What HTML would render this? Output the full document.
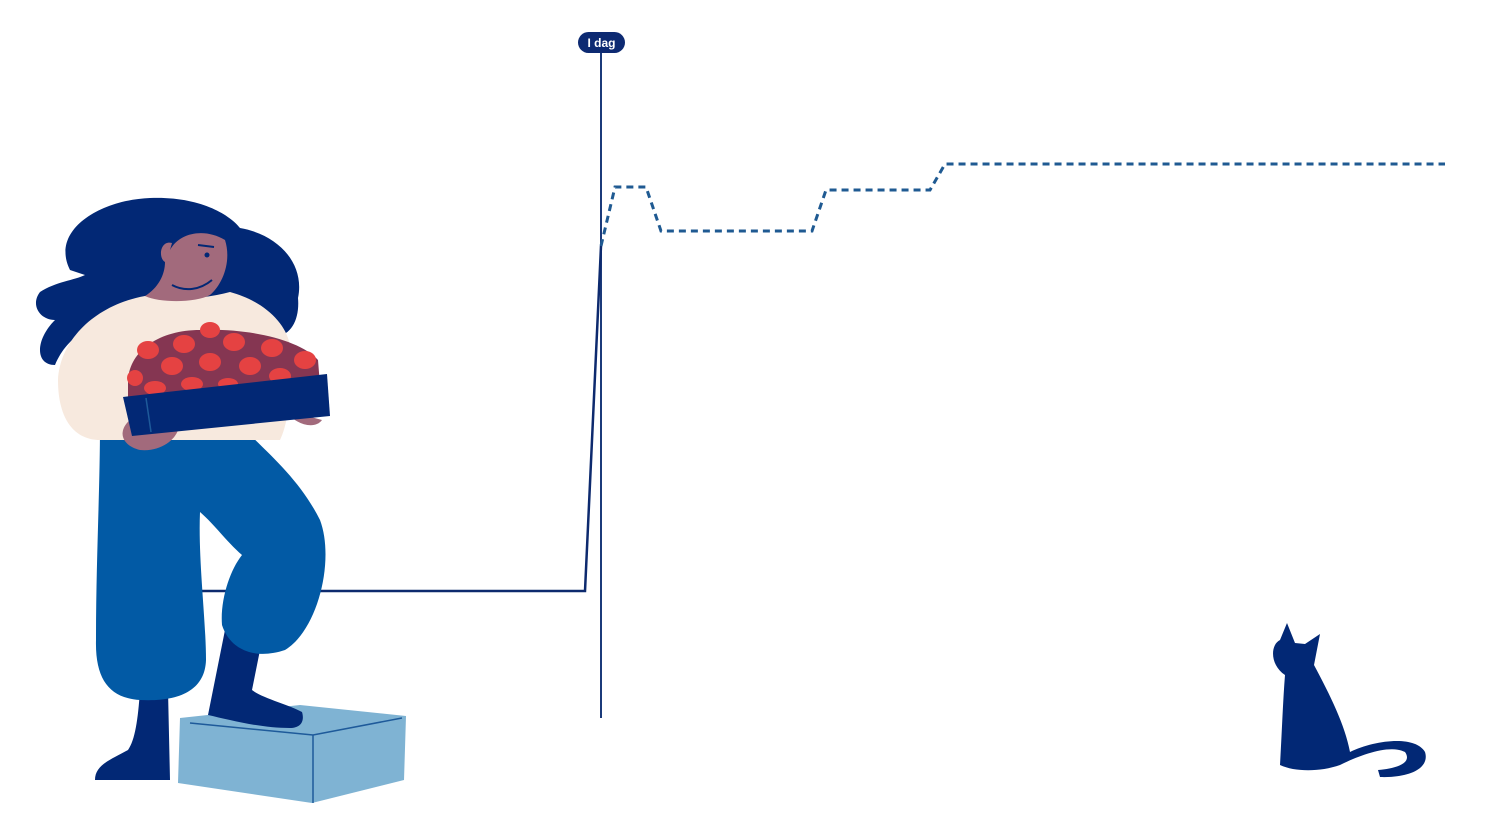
<!DOCTYPE html>
<html><head><meta charset="utf-8"><style>
html,body{margin:0;padding:0;background:#fff;}
svg{display:block;}
</style></head><body>
<svg width="1492" height="836" viewBox="0 0 1492 836" xmlns="http://www.w3.org/2000/svg">
<!-- chart -->
<line x1="601" y1="50" x2="601" y2="718" stroke="#1b3a7a" stroke-width="2"/>
<polyline points="200,591 585,591 601,246" fill="none" stroke="#0d2a6e" stroke-width="2.5"/>
<polyline points="601,246 615,187 646,187 661,231 812,231 826,190 930,190 945,164 1445,164" fill="none" stroke="#1f5a92" stroke-width="3" stroke-dasharray="7,5"/>
<rect x="578" y="32" width="47" height="21" rx="10.5" fill="#0d2a72"/>
<text x="601.5" y="47" text-anchor="middle" font-family="Liberation Sans, sans-serif" font-size="12" font-weight="bold" fill="#fff">I dag</text>

<!-- woman: hair -->
<path d="M70,270 C50,230 100,200 150,198 C200,196 230,215 240,228 C280,235 305,265 298,298 C300,320 290,340 270,335 L140,320 C100,320 70,330 55,365 C35,365 35,340 55,320 C40,320 30,305 40,292 C55,282 75,280 85,275 Z" fill="#022875"/>
<!-- box (light blue) -->
<polygon points="180,718 300,705 406,716 404,780 312,803 178,783" fill="#7fb3d3"/>
<polyline points="190,723 313,735 402,718" fill="none" stroke="#1e5a9a" stroke-width="1.5"/>
<line x1="313" y1="735" x2="313" y2="803" stroke="#1e5a9a" stroke-width="1.5"/>
<!-- boots -->
<path d="M140,690 L168,690 L170,780 L95,780 C95,765 110,760 128,750 C135,740 138,720 140,690 Z" fill="#022875"/>
<path d="M225,630 L262,640 L252,690 C262,698 290,705 302,712 C305,722 300,728 290,728 C260,728 230,720 208,715 Z" fill="#022875"/>
<!-- pants -->
<path d="M100,425 L240,425 C270,455 300,480 320,520 C335,560 318,630 285,650 C255,660 230,650 222,625 C220,600 230,570 242,555 C225,540 215,525 200,512 C198,560 206,620 206,660 C205,690 180,702 140,700 C110,698 95,680 96,640 C96,560 100,490 100,425 Z" fill="#025aa5"/>
<!-- shirt -->
<path d="M145,296 C170,300 200,300 230,292 C260,300 285,320 290,345 C292,380 290,420 280,440 L100,440 C75,440 58,420 58,380 C60,340 95,305 145,296 Z" fill="#f7e9de"/>
<!-- face -->
<path d="M170,250 C180,232 205,228 225,240 C232,262 222,285 210,295 C195,303 160,303 145,296 C158,288 165,275 165,262 C158,258 160,240 172,243 Z" fill="#a26a7c"/>
<path d="M172,285 C185,292 200,290 212,280" fill="none" stroke="#022875" stroke-width="2"/>
<circle cx="207" cy="255" r="2.5" fill="#022875"/>
<path d="M198,245 L214,247" stroke="#022875" stroke-width="2"/>
<!-- fruits -->
<path d="M128,380 C130,350 160,330 200,330 C250,328 300,340 318,360 L320,385 L128,400 Z" fill="#853652"/>
<g fill="#e54242">
<ellipse cx="148" cy="350" rx="11" ry="9"/><ellipse cx="184" cy="344" rx="11" ry="9"/><ellipse cx="210" cy="330" rx="10" ry="8"/>
<ellipse cx="234" cy="342" rx="11" ry="9"/><ellipse cx="272" cy="348" rx="11" ry="9"/><ellipse cx="305" cy="360" rx="11" ry="9"/>
<ellipse cx="172" cy="366" rx="11" ry="9"/><ellipse cx="210" cy="362" rx="11" ry="9"/><ellipse cx="250" cy="366" rx="11" ry="9"/>
<ellipse cx="280" cy="376" rx="11" ry="8"/><ellipse cx="135" cy="378" rx="8" ry="8"/><ellipse cx="155" cy="388" rx="11" ry="7"/><ellipse cx="192" cy="384" rx="11" ry="7"/><ellipse cx="228" cy="384" rx="10" ry="6"/>
</g>
<!-- hands -->
<path d="M130,420 C118,430 120,445 140,450 C160,452 175,440 178,430 Z" fill="#a26a7c"/>
<path d="M285,410 C295,425 315,430 322,420 Z" fill="#a26a7c"/>
<!-- tray -->
<polygon points="123,397 327,374 330,416 132,436" fill="#022875"/>
<line x1="146" y1="398" x2="151" y2="432" stroke="#1e5a9a" stroke-width="1.5"/>

<!-- cat -->
<path d="M1287,623 L1295,643 L1305,644 L1320,634 L1314,665 C1330,695 1345,725 1350,752 C1375,740 1415,735 1425,752 C1430,768 1410,778 1380,777 L1378,770 C1400,768 1412,762 1405,752 C1390,744 1360,755 1340,765 C1320,772 1295,772 1280,765 C1282,730 1283,700 1285,675 C1270,665 1270,645 1280,640 Z" fill="#022875"/>
</svg>
</body></html>
